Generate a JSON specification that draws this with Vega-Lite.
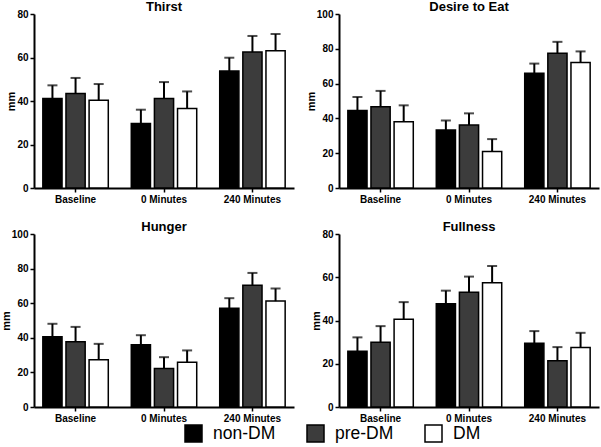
{
  "$schema": "https://vega.github.io/schema/vega-lite/v6.json",
  "padding": {"left": 0, "top": 1, "right": 2, "bottom": 0},
  "background": "white",
  "datasets": {
    "vas": [
      {"panel": "Thirst", "time": "Baseline", "group": "non-DM", "mean": 41.1, "upper": 47.2},
      {"panel": "Thirst", "time": "Baseline", "group": "pre-DM", "mean": 43.5, "upper": 50.6},
      {"panel": "Thirst", "time": "Baseline", "group": "DM", "mean": 40.3, "upper": 47.8},
      {"panel": "Thirst", "time": "0 Minutes", "group": "non-DM", "mean": 29.7, "upper": 36.0},
      {"panel": "Thirst", "time": "0 Minutes", "group": "pre-DM", "mean": 41.2, "upper": 48.7},
      {"panel": "Thirst", "time": "0 Minutes", "group": "DM", "mean": 36.6, "upper": 44.4},
      {"panel": "Thirst", "time": "240 Minutes", "group": "non-DM", "mean": 53.8, "upper": 59.9},
      {"panel": "Thirst", "time": "240 Minutes", "group": "pre-DM", "mean": 62.5, "upper": 69.9},
      {"panel": "Thirst", "time": "240 Minutes", "group": "DM", "mean": 63.1, "upper": 70.8},
      {"panel": "Desire to Eat", "time": "Baseline", "group": "non-DM", "mean": 44.6, "upper": 52.3},
      {"panel": "Desire to Eat", "time": "Baseline", "group": "pre-DM", "mean": 46.7, "upper": 55.8},
      {"panel": "Desire to Eat", "time": "Baseline", "group": "DM", "mean": 38.1, "upper": 47.5},
      {"panel": "Desire to Eat", "time": "0 Minutes", "group": "non-DM", "mean": 33.3, "upper": 38.8},
      {"panel": "Desire to Eat", "time": "0 Minutes", "group": "pre-DM", "mean": 36.2, "upper": 42.9},
      {"panel": "Desire to Eat", "time": "0 Minutes", "group": "DM", "mean": 21.0, "upper": 28.1},
      {"panel": "Desire to Eat", "time": "240 Minutes", "group": "non-DM", "mean": 66.0, "upper": 71.5},
      {"panel": "Desire to Eat", "time": "240 Minutes", "group": "pre-DM", "mean": 77.5, "upper": 84.0},
      {"panel": "Desire to Eat", "time": "240 Minutes", "group": "DM", "mean": 72.1, "upper": 78.5},
      {"panel": "Hunger", "time": "Baseline", "group": "non-DM", "mean": 40.6, "upper": 48.1},
      {"panel": "Hunger", "time": "Baseline", "group": "pre-DM", "mean": 37.7, "upper": 46.3},
      {"panel": "Hunger", "time": "Baseline", "group": "DM", "mean": 27.3, "upper": 36.5},
      {"panel": "Hunger", "time": "0 Minutes", "group": "non-DM", "mean": 36.0, "upper": 41.5},
      {"panel": "Hunger", "time": "0 Minutes", "group": "pre-DM", "mean": 22.3, "upper": 28.8},
      {"panel": "Hunger", "time": "0 Minutes", "group": "DM", "mean": 25.8, "upper": 32.7},
      {"panel": "Hunger", "time": "240 Minutes", "group": "non-DM", "mean": 57.1, "upper": 62.9},
      {"panel": "Hunger", "time": "240 Minutes", "group": "pre-DM", "mean": 70.4, "upper": 77.5},
      {"panel": "Hunger", "time": "240 Minutes", "group": "DM", "mean": 61.2, "upper": 68.5},
      {"panel": "Fullness", "time": "Baseline", "group": "non-DM", "mean": 25.8, "upper": 32.2},
      {"panel": "Fullness", "time": "Baseline", "group": "pre-DM", "mean": 30.0, "upper": 37.4},
      {"panel": "Fullness", "time": "Baseline", "group": "DM", "mean": 40.6, "upper": 48.5},
      {"panel": "Fullness", "time": "0 Minutes", "group": "non-DM", "mean": 47.7, "upper": 53.8},
      {"panel": "Fullness", "time": "0 Minutes", "group": "pre-DM", "mean": 53.1, "upper": 60.3},
      {"panel": "Fullness", "time": "0 Minutes", "group": "DM", "mean": 57.5, "upper": 65.2},
      {"panel": "Fullness", "time": "240 Minutes", "group": "non-DM", "mean": 29.5, "upper": 35.1},
      {"panel": "Fullness", "time": "240 Minutes", "group": "pre-DM", "mean": 21.4, "upper": 27.7},
      {"panel": "Fullness", "time": "240 Minutes", "group": "DM", "mean": 27.5, "upper": 34.3}
    ]
  },
  "data": {"name": "vas"},
  "columns": 2,
  "bounds": "flush",
  "spacing": {"row": 46, "column": 45},
  "concat": [
    {
      "title": "Thirst",
      "width": 260, "height": 174,
      "transform": [{"filter": "datum.panel === 'Thirst'"}],
      "encoding": {
        "x": {"field": "time", "type": "nominal", "sort": ["Baseline", "0 Minutes", "240 Minutes"], "title": null, "scale": {"paddingInner": 0.26, "paddingOuter": 0.1}},
        "xOffset": {"field": "group", "type": "nominal", "sort": ["non-DM", "pre-DM", "DM"], "scale": {"paddingInner": 0.17}}
      },
      "layer": [
        {"mark": {"type": "bar", "stroke": "black", "strokeWidth": 1.5},
         "encoding": {"y": {"field": "mean", "type": "quantitative", "title": "mm", "scale": {"domain": [0, 80]}, "axis": {"values": [0, 20, 40, 60, 80], "labelOverlap": false}},
                      "color": {"field": "group", "type": "nominal", "sort": ["non-DM", "pre-DM", "DM"], "scale": {"domain": ["non-DM", "pre-DM", "DM"], "range": ["#000000", "#3c3c3c", "#ffffff"]}}}},
        {"mark": {"type": "rule", "color": "black", "strokeWidth": 2},
         "encoding": {"y": {"field": "mean", "type": "quantitative", "title": "mm", "axis": {"values": [0, 20, 40, 60, 80], "labelOverlap": false}}, "y2": {"field": "upper"}}},
        {"mark": {"type": "tick", "color": "black", "thickness": 2, "size": 10},
         "encoding": {"y": {"field": "upper", "type": "quantitative", "title": "mm", "axis": {"values": [0, 20, 40, 60, 80], "labelOverlap": false}}}}
      ]
    },
    {
      "title": "Desire to Eat",
      "width": 260, "height": 174,
      "transform": [{"filter": "datum.panel === 'Desire to Eat'"}],
      "encoding": {
        "x": {"field": "time", "type": "nominal", "sort": ["Baseline", "0 Minutes", "240 Minutes"], "title": null, "scale": {"paddingInner": 0.26, "paddingOuter": 0.1}},
        "xOffset": {"field": "group", "type": "nominal", "sort": ["non-DM", "pre-DM", "DM"], "scale": {"paddingInner": 0.17}}
      },
      "layer": [
        {"mark": {"type": "bar", "stroke": "black", "strokeWidth": 1.5},
         "encoding": {"y": {"field": "mean", "type": "quantitative", "title": "mm", "scale": {"domain": [0, 100]}, "axis": {"values": [0, 20, 40, 60, 80, 100], "labelOverlap": false}},
                      "color": {"field": "group", "type": "nominal", "sort": ["non-DM", "pre-DM", "DM"], "scale": {"domain": ["non-DM", "pre-DM", "DM"], "range": ["#000000", "#3c3c3c", "#ffffff"]}}}},
        {"mark": {"type": "rule", "color": "black", "strokeWidth": 2},
         "encoding": {"y": {"field": "mean", "type": "quantitative", "title": "mm", "axis": {"values": [0, 20, 40, 60, 80, 100], "labelOverlap": false}}, "y2": {"field": "upper"}}},
        {"mark": {"type": "tick", "color": "black", "thickness": 2, "size": 10},
         "encoding": {"y": {"field": "upper", "type": "quantitative", "title": "mm", "axis": {"values": [0, 20, 40, 60, 80, 100], "labelOverlap": false}}}}
      ]
    },
    {
      "title": "Hunger",
      "width": 260, "height": 173,
      "transform": [{"filter": "datum.panel === 'Hunger'"}],
      "encoding": {
        "x": {"field": "time", "type": "nominal", "sort": ["Baseline", "0 Minutes", "240 Minutes"], "title": null, "scale": {"paddingInner": 0.26, "paddingOuter": 0.1}},
        "xOffset": {"field": "group", "type": "nominal", "sort": ["non-DM", "pre-DM", "DM"], "scale": {"paddingInner": 0.17}}
      },
      "layer": [
        {"mark": {"type": "bar", "stroke": "black", "strokeWidth": 1.5},
         "encoding": {"y": {"field": "mean", "type": "quantitative", "title": "mm", "scale": {"domain": [0, 100]}, "axis": {"values": [0, 20, 40, 60, 80, 100], "labelOverlap": false}},
                      "color": {"field": "group", "type": "nominal", "sort": ["non-DM", "pre-DM", "DM"], "scale": {"domain": ["non-DM", "pre-DM", "DM"], "range": ["#000000", "#3c3c3c", "#ffffff"]}}}},
        {"mark": {"type": "rule", "color": "black", "strokeWidth": 2},
         "encoding": {"y": {"field": "mean", "type": "quantitative", "title": "mm", "axis": {"values": [0, 20, 40, 60, 80, 100], "labelOverlap": false}}, "y2": {"field": "upper"}}},
        {"mark": {"type": "tick", "color": "black", "thickness": 2, "size": 10},
         "encoding": {"y": {"field": "upper", "type": "quantitative", "title": "mm", "axis": {"values": [0, 20, 40, 60, 80, 100], "labelOverlap": false}}}}
      ]
    },
    {
      "title": "Fullness",
      "width": 260, "height": 173,
      "transform": [{"filter": "datum.panel === 'Fullness'"}],
      "encoding": {
        "x": {"field": "time", "type": "nominal", "sort": ["Baseline", "0 Minutes", "240 Minutes"], "title": null, "scale": {"paddingInner": 0.26, "paddingOuter": 0.1}},
        "xOffset": {"field": "group", "type": "nominal", "sort": ["non-DM", "pre-DM", "DM"], "scale": {"paddingInner": 0.17}}
      },
      "layer": [
        {"mark": {"type": "bar", "stroke": "black", "strokeWidth": 1.5},
         "encoding": {"y": {"field": "mean", "type": "quantitative", "title": "mm", "scale": {"domain": [0, 80]}, "axis": {"values": [0, 20, 40, 60, 80], "labelOverlap": false}},
                      "color": {"field": "group", "type": "nominal", "sort": ["non-DM", "pre-DM", "DM"], "scale": {"domain": ["non-DM", "pre-DM", "DM"], "range": ["#000000", "#3c3c3c", "#ffffff"]}}}},
        {"mark": {"type": "rule", "color": "black", "strokeWidth": 2},
         "encoding": {"y": {"field": "mean", "type": "quantitative", "title": "mm", "axis": {"values": [0, 20, 40, 60, 80], "labelOverlap": false}}, "y2": {"field": "upper"}}},
        {"mark": {"type": "tick", "color": "black", "thickness": 2, "size": 10},
         "encoding": {"y": {"field": "upper", "type": "quantitative", "title": "mm", "axis": {"values": [0, 20, 40, 60, 80], "labelOverlap": false}}}}
      ]
    }
  ],
  "config": {
    "font": "Liberation Sans",
    "view": {"stroke": null},
    "title": {"fontSize": 13, "fontWeight": "bold", "color": "black", "offset": -5, "frame": "group"},
    "axis": {"domainColor": "black", "domainWidth": 2, "tickColor": "black", "tickWidth": 1.5, "tickSize": 4, "labelFontSize": 10, "labelFontWeight": "bold", "labelColor": "black", "labelPadding": 2, "labelOverlap": false, "titleFontSize": 11, "titleFontWeight": "bold", "titleColor": "black", "titlePadding": 0, "grid": false},
    "axisX": {"labelAngle": 0},
    "legend": {"title": null, "orient": "none", "legendX": 150, "legendY": 410, "padding": 0, "direction": "horizontal", "symbolType": "square", "symbolSize": 289, "symbolStrokeColor": "black", "symbolStrokeWidth": 1.5, "labelFontSize": 17.5, "labelFont": "Liberation Sans", "labelColor": "black", "labelOffset": 10, "columnPadding": 28}
  }
}
